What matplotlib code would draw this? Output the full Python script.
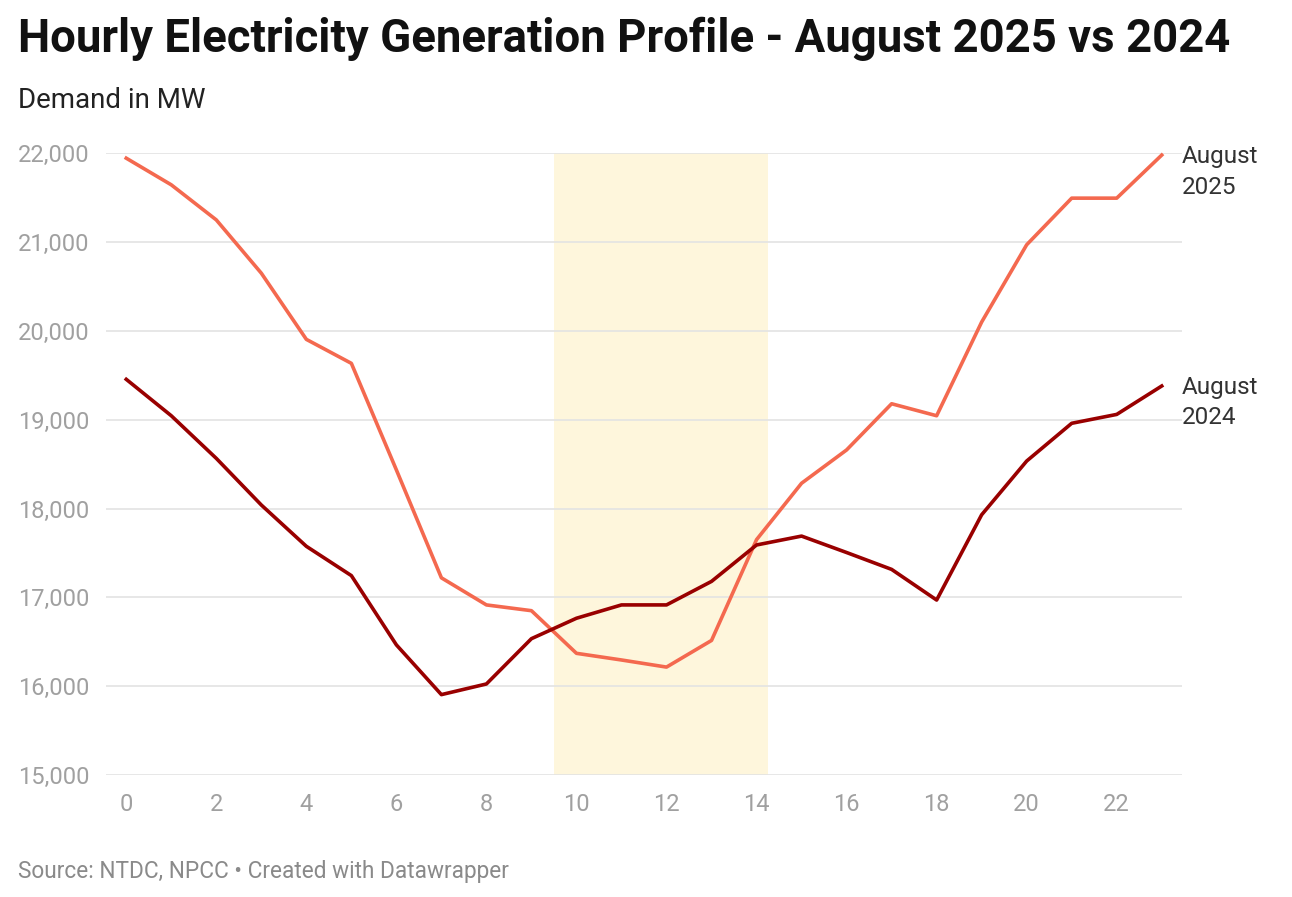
import matplotlib
matplotlib.use("Agg")
import matplotlib.pyplot as plt
from matplotlib.ticker import FuncFormatter

plt.rcParams['font.family'] = ['Roboto', 'DejaVu Sans']

# ---- data ----
hours = list(range(24))
aug_2025 = [21945, 21645, 21250, 20650, 19905, 19635, 18435, 17220,
            16915, 16850, 16370, 16295, 16215, 16515, 17650, 18285,
            18660, 19180, 19045, 20100, 20970, 21495, 21495, 21980]
aug_2024 = [19455, 19045, 18565, 18040, 17575, 17245, 16465, 15905,
            16025, 16535, 16765, 16915, 16915, 17180, 17590, 17690,
            17505, 17315, 16970, 17930, 18535, 18960, 19060, 19380]
shade_start, shade_end = 9.5, 14.25
y_ticks = [15000, 16000, 17000, 18000, 19000, 20000, 21000, 22000]
x_ticks = list(range(0, 24, 2))

c_2025 = '#f4694f'
c_2024 = '#990000'
grey = '#a0a0a0'

fig = plt.figure(figsize=(12.92, 8.97), dpi=100)
ax = fig.add_axes([106 / 1292, 1 - 775 / 897, (1182 - 106) / 1292, (775 - 153.3) / 897])

# shaded band + grid
ax.axvspan(shade_start, shade_end, color='#fef6dc', zorder=0, lw=0)
for v in y_ticks:
    ax.axhline(v, color='#e3e3e3', lw=1.2, zorder=1)

ax.plot(hours, aug_2025, color=c_2025, lw=2.6, zorder=3, clip_on=False)
ax.plot(hours, aug_2024, color=c_2024, lw=2.6, zorder=3, clip_on=False)

ax.set_xlim(-0.45, 23.45)
ax.set_ylim(15000, 22000)
ax.set_yticks(y_ticks)
ax.set_xticks(x_ticks)
ax.yaxis.set_major_formatter(FuncFormatter(lambda v, p: f"{int(v):,}"))
ax.tick_params(axis='both', length=0, labelsize=17, labelcolor=grey)
ax.tick_params(axis='y', pad=12)
ax.tick_params(axis='x', pad=13)
for s in ax.spines.values():
    s.set_visible(False)

# line labels
ax.text(23.45, 22090, "August\n2025", ha='left', va='top', fontsize=17.5,
        color='#333333', linespacing=1.4, clip_on=False)
ax.text(23.45, 19490, "August\n2024", ha='left', va='top', fontsize=17.5,
        color='#333333', linespacing=1.4, clip_on=False)

fig.text(18 / 1292, 1 - 39 / 897, "Hourly Electricity Generation Profile - August 2025 vs 2024",
         fontsize=32.8, fontweight='bold', color='#111111', va='center', ha='left')
fig.text(18 / 1292, 1 - 101 / 897, "Demand in MW", fontsize=20, color='#222222',
         va='center', ha='left')
fig.text(18 / 1292, 1 - 871 / 897, "Source: NTDC, NPCC \u2022 Created with Datawrapper",
         fontsize=16.3, color='#8a8a8a', va='center', ha='left')

fig.savefig("out.png", dpi=100, facecolor='white')
